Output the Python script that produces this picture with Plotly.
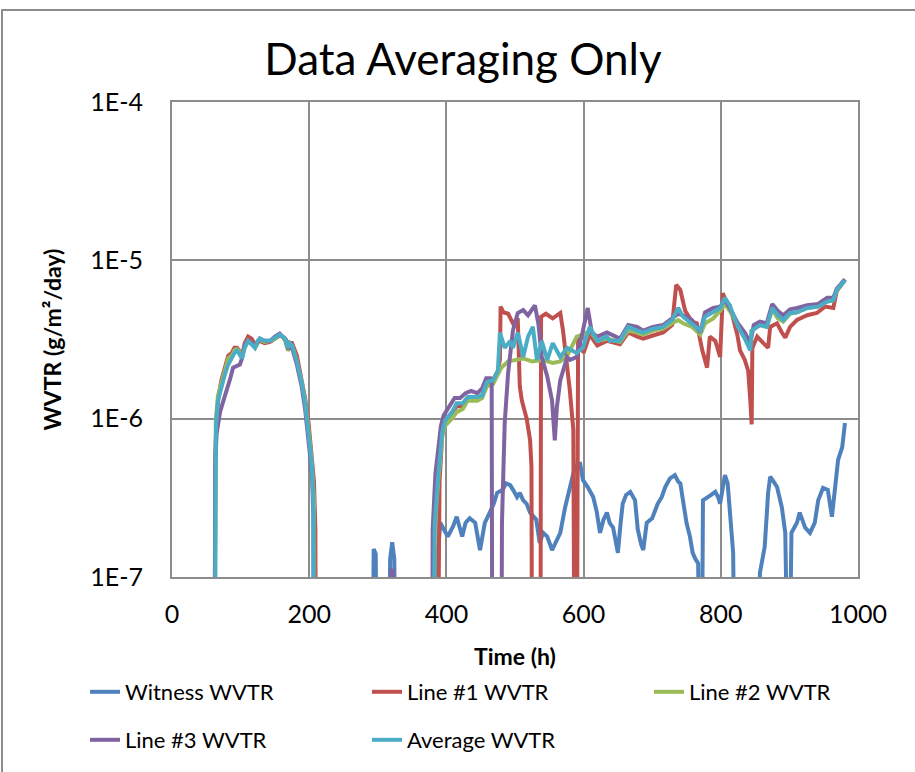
import plotly.graph_objects as go

# ---------------- data (time h, WVTR g/m2/day) ----------------
# values of 1e-8 are below the axis floor (drawn as drops to the bottom)
witness = [(288,1e-8),(292,1e-8),(294,1.5e-7),(297,1.4e-7),(299,1e-8),
    (315,1e-8),(318,1.3e-7),(321,1.66e-7),(324,1.3e-7),(327,1e-8),
    (385,1e-8),(388,1.5e-7),(391,2.2e-7),(396,2.0e-7),(402,1.8e-7),(410,2.1e-7),(415,2.4e-7),(423,1.8e-7),
    (428,2.2e-7),(434,2.35e-7),(442,2.2e-7),(449,1.48e-7),(456,2.2e-7),(464,2.6e-7),(469,2.9e-7),(474,3.4e-7),
    (482,3.55e-7),(487,3.9e-7),(493,3.8e-7),(498,3.5e-7),(503,3.2e-7),(507,3.4e-7),(512,3.05e-7),(517,2.9e-7),
    (522,2.55e-7),(531,2.3e-7),(536,1.64e-7),(541,1.9e-7),(547,1.8e-7),(554,1.48e-7),(560,1.7e-7),(566,1.9e-7),
    (573,2.75e-7),(579,3.6e-7),(585,4.5e-7),(591,5.2e-7),(595,5.2e-7),(599,4.1e-7),(606,3.7e-7),(614,3.2e-7),
    (619,2.6e-7),(624,1.9e-7),(629,2.3e-7),(634,2.55e-7),(638,2.2e-7),(643,2.05e-7),(650,1.42e-7),(654,2.2e-7),
    (657,2.9e-7),(662,3.3e-7),(668,3.45e-7),(675,3.05e-7),(679,2.0e-7),(684,1.6e-7),(687,1.48e-7),(692,2.2e-7),
    (700,2.35e-7),(708,2.9e-7),(714,3.2e-7),(719,3.7e-7),(726,4.2e-7),(733,4.4e-7),(738,4.0e-7),(741,3.9e-7),
    (745,2.9e-7),(750,2.2e-7),(755,1.8e-7),(759,1.42e-7),(763,1.3e-7),(767,1.22e-7),(770,1e-8),(772,1e-8),
    (774,3.05e-7),(780,3.2e-7),(786,3.3e-7),(792,3.45e-7),(796,3.2e-7),(799,2.9e-7),(802,3.6e-7),(806,4.4e-7),
    (810,3.9e-7),(814,2.4e-7),(818,1.42e-7),(821,1e-8),(853,1e-8),(857,1.06e-7),(864,1.55e-7),(869,3.4e-7),
    (872,4.3e-7),(877,4.0e-7),(882,3.7e-7),(889,2.75e-7),(894,1.9e-7),(899,1e-8),(903,1.9e-7),(911,2.2e-7),
    (915,2.55e-7),(923,2.05e-7),(930,1.9e-7),(937,2.2e-7),(942,3.05e-7),(949,3.65e-7),(956,3.55e-7),(962,2.4e-7),
    (966,3.7e-7),(971,5.5e-7),(977,6.6e-7),(981,9.4e-7)]

line1 = [(62,1e-8),(63,6e-7),(65,1.0e-6),(68,1.4e-6),(72,1.75e-6),(77,2.1e-6),(82,2.5e-6),(87,2.6e-6),
    (91,2.8e-6),(95,2.8e-6),(99,2.65e-6),(103,2.6e-6),(106,3.0e-6),(111,3.3e-6),(116,3.2e-6),(121,2.95e-6),
    (128,3.1e-6),(135,3.0e-6),(143,3.05e-6),(150,3.2e-6),(157,3.35e-6),(161,3.3e-6),(165,3.2e-6),(169,3.0e-6),
    (175,3.0e-6),(182,2.5e-6),(189,1.8e-6),(194,1.35e-6),(199,9.5e-7),(203,6.5e-7),(207,4.0e-7),(209,2e-7),
    (210,1e-8),(387,1e-8),(390,4e-7),(394,8e-7),(398,9.5e-7),(408,1.08e-6),(415,1.2e-6),(424,1.2e-6),
    (431,1.35e-6),(445,1.35e-6),(452,1.4e-6),(459,1.65e-6),(468,1.75e-6),(475,2.0e-6),(478,2.35e-6),(479,5.1e-6),
    (483,4.7e-6),(490,4.6e-6),(497,4.0e-6),(504,4.3e-6),(507,1.6e-6),(510,1.3e-6),(517,1.0e-6),(522,7.3e-7),
    (524,5e-7),(525,1e-8),(537,1e-8),(538,4.4e-6),(545,4.6e-6),(555,4.3e-6),(566,4.65e-6),(570,3.6e-6),
    (575,2.45e-6),(580,1.5e-6),(585,8.5e-7),(587,1e-8),(590,1e-8),(592,3.3e-6),(600,2.6e-6),(609,3.4e-6),
    (620,2.9e-6),(634,3.1e-6),(653,2.95e-6),(665,3.5e-6),(678,3.3e-6),(687,3.2e-6),(701,3.35e-6),(716,3.5e-6),
    (729,3.9e-6),(735,7.0e-6),(741,6.5e-6),(748,4.8e-6),(758,4.1e-6),(765,4.0e-6),(773,2.7e-6),(780,2.1e-6),
    (784,3.3e-6),(792,3.1e-6),(799,2.45e-6),(803,6.2e-6),(808,5.4e-6),(813,5.2e-6),(824,3.4e-6),(828,2.7e-6),
    (835,2.35e-6),(840,2.0e-6),(843,1.3e-6),(845,9.2e-7),(846,2.8e-6),(853,3.3e-6),(862,3.0e-6),(869,2.8e-6),
    (872,3.8e-6),(882,4.0e-6),(889,3.5e-6),(894,3.25e-6),(901,3.8e-6),(911,4.2e-6),(926,4.5e-6),(940,4.65e-6),
    (952,5.1e-6),(964,5.0e-6),(969,6.4e-6),(981,7.5e-6)]

line2 = [(62,1e-8),(63,6e-7),(64,1.0e-6),(67,1.4e-6),(72,1.7e-6),(77,2.0e-6),(82,2.4e-6),(87,2.5e-6),
    (91,2.7e-6),(95,2.75e-6),(99,2.6e-6),(102,2.5e-6),(106,2.9e-6),(111,3.1e-6),(116,3.0e-6),(121,2.8e-6),
    (128,3.15e-6),(135,3.05e-6),(143,3.1e-6),(150,3.2e-6),(157,3.4e-6),(161,3.3e-6),(165,3.1e-6),(169,2.7e-6),
    (175,2.9e-6),(182,2.3e-6),(189,1.7e-6),(194,1.3e-6),(199,8.5e-7),(204,5.2e-7),(207,3e-7),(208,1e-8),
    (381,1e-8),(383,2e-7),(388,4e-7),(394,7.8e-7),(398,9.0e-7),(408,1.0e-6),(415,1.1e-6),(424,1.15e-6),
    (431,1.3e-6),(445,1.3e-6),(452,1.35e-6),(459,1.6e-6),(468,1.65e-6),(475,1.9e-6),(480,2.1e-6),(490,2.3e-6),
    (500,2.35e-6),(512,2.4e-6),(525,2.3e-6),(540,2.35e-6),(555,2.25e-6),(566,2.3e-6),(576,2.5e-6),(590,3.3e-6),
    (600,3.4e-6),(609,3.6e-6),(620,3.1e-6),(634,3.2e-6),(653,3.05e-6),(665,3.6e-6),(678,3.5e-6),(687,3.4e-6),
    (701,3.6e-6),(716,3.7e-6),(729,4.0e-6),(738,4.2e-6),(745,4.0e-6),(758,3.8e-6),(770,3.4e-6),(777,4.0e-6),
    (789,4.3e-6),(799,4.8e-6),(806,5.3e-6),(813,4.8e-6),(825,3.9e-6),(835,3.3e-6),(843,2.9e-6),(845,3.6e-6),
    (857,3.9e-6),(867,3.8e-6),(875,4.9e-6),(883,4.3e-6),(891,4.1e-6),(901,4.6e-6),(911,4.7e-6),(926,5.0e-6),
    (942,5.1e-6),(955,5.5e-6),(964,5.6e-6),(969,6.5e-6),(981,7.6e-6)]

line3 = [(62,1e-8),(63,5e-7),(65,8e-7),(70,1.1e-6),(75,1.3e-6),(80,1.5e-6),(85,1.8e-6),(89,2.1e-6),
    (94,2.15e-6),(99,2.2e-6),(102,2.4e-6),(106,2.9e-6),(111,3.1e-6),(116,3.0e-6),(121,2.85e-6),(128,3.2e-6),
    (135,3.1e-6),(143,3.1e-6),(150,3.3e-6),(157,3.45e-6),(161,3.3e-6),(165,3.2e-6),(169,2.8e-6),(175,2.8e-6),
    (182,2.2e-6),(189,1.6e-6),(194,1.15e-6),(199,7.5e-7),(204,4.5e-7),(206,2.5e-7),(207,1e-8),
    (318,1e-8),(320,1.1e-7),(322,1.1e-7),(324,1e-8),
    (379,1e-8),(380,2e-7),(384,4.5e-7),(388,6.5e-7),(392,9e-7),(396,1.05e-6),(404,1.2e-6),(412,1.35e-6),
    (420,1.35e-6),(428,1.45e-6),(436,1.5e-6),(445,1.45e-6),(452,1.55e-6),(458,1.8e-6),(464,1.8e-6),(466,1.7e-6),
    (467,1e-8),(480,1e-8),(481,2.2e-7),(485,9.4e-7),(490,1.95e-6),(497,3.6e-6),(504,4.65e-6),(512,4.85e-6),
    (519,4.5e-6),(529,5.2e-6),(534,4.0e-6),(539,2.45e-6),(547,1.85e-6),(554,1.3e-6),(558,7.3e-7),(561,1.18e-6),
    (566,1.75e-6),(576,2.45e-6),(580,2.35e-6),(590,2.45e-6),(599,3.6e-6),(606,5.0e-6),(612,3.5e-6),(620,3.3e-6),
    (634,3.5e-6),(653,3.2e-6),(665,3.9e-6),(678,3.8e-6),(687,3.6e-6),(701,3.8e-6),(716,3.9e-6),(729,4.3e-6),
    (738,4.6e-6),(745,4.5e-6),(758,4.2e-6),(770,3.5e-6),(777,4.7e-6),(789,5.0e-6),(799,5.1e-6),(806,5.6e-6),
    (813,5.0e-6),(825,4.0e-6),(835,3.5e-6),(843,3.0e-6),(848,3.9e-6),(857,4.1e-6),(867,4.0e-6),(875,5.3e-6),
    (883,4.8e-6),(891,4.5e-6),(901,4.9e-6),(911,5.0e-6),(926,5.2e-6),(942,5.3e-6),(955,5.8e-6),(964,5.8e-6),
    (969,6.6e-6),(981,7.6e-6)]

average = [(62,1e-8),(63,5e-7),(64,9e-7),(67,1.3e-6),(72,1.6e-6),(77,1.9e-6),(82,2.2e-6),(87,2.4e-6),
    (91,2.6e-6),(95,2.7e-6),(99,2.55e-6),(102,2.4e-6),(106,2.8e-6),(111,3.1e-6),(116,2.95e-6),(121,2.8e-6),
    (125,3.1e-6),(128,3.2e-6),(135,3.1e-6),(143,3.1e-6),(150,3.25e-6),(157,3.4e-6),(161,3.3e-6),(165,3.2e-6),
    (169,2.8e-6),(172,3.0e-6),(175,2.9e-6),(182,2.3e-6),(189,1.7e-6),(194,1.25e-6),(199,8e-7),(204,5e-7),
    (206,3e-7),(207,1e-8),
    (380,1e-8),(383,2.2e-7),(388,4.3e-7),(394,8.2e-7),(398,9.7e-7),(408,1.1e-6),(415,1.25e-6),(424,1.25e-6),
    (431,1.37e-6),(445,1.37e-6),(452,1.4e-6),(459,1.7e-6),(468,1.75e-6),(475,2.0e-6),(478,3.5e-6),(485,2.8e-6),
    (493,3.1e-6),(497,2.8e-6),(504,3.5e-6),(512,2.45e-6),(519,3.3e-6),(526,3.8e-6),(532,2.35e-6),(539,3.1e-6),
    (547,2.35e-6),(555,3.0e-6),(566,2.45e-6),(576,2.8e-6),(590,2.6e-6),(599,2.8e-6),(609,3.8e-6),(620,3.1e-6),
    (634,3.3e-6),(638,3.1e-6),(653,3.1e-6),(665,3.8e-6),(678,3.6e-6),(687,3.5e-6),(701,3.7e-6),(716,3.8e-6),
    (729,4.2e-6),(738,5.0e-6),(745,4.4e-6),(758,4.0e-6),(770,3.6e-6),(777,4.4e-6),(789,4.7e-6),(799,5.0e-6),
    (806,5.8e-6),(813,5.2e-6),(825,3.8e-6),(835,3.2e-6),(843,2.7e-6),(845,3.6e-6),(857,3.9e-6),(867,3.8e-6),
    (875,5.0e-6),(883,4.5e-6),(891,4.2e-6),(901,4.65e-6),(911,4.7e-6),(926,5.0e-6),(942,5.1e-6),(955,5.5e-6),
    (964,5.6e-6),(969,6.5e-6),(981,7.5e-6)]

series_names = ["Witness WVTR", "Line #1 WVTR", "Line #2 WVTR", "Line #3 WVTR", "Average WVTR"]
series_data = [witness, line1, line2, line3, average]
series_colors = ["#4F81BD", "#C0504D", "#9BBB59", "#8064A2", "#4BACC6"]
series_legend = ["legend", "legend", "legend", "legend2", "legend2"]

y_tickvals = [1e-7, 1e-6, 1e-5, 1e-4]
y_ticktext = ["1E-7", "1E-6", "1E-5", "1E-4"]
x_tickvals = [0, 200, 400, 600, 800, 1000]

FONT = "Lato, 'Open Sans', sans-serif"
GRID = "#8c8c8c"

fig = go.Figure()
for name, data, color, lg in zip(series_names, series_data, series_colors, series_legend):
    fig.add_trace(go.Scatter(
        x=[p[0] for p in data], y=[p[1] for p in data], mode="lines", name=name,
        line=dict(color=color, width=4), legend=lg))

W, H = 915, 772
# plot area in window px: left 172, right 858, top 102, bottom 577
L, T = 172, 102
R = W - 858
B = H - 577
pw, ph = W - L - R, H - T - B

def px_x(px):
    return (px - L) / pw

def px_y(py):
    return (H - B - py) / ph

fig.update_layout(
    width=W, height=H,
    margin=dict(l=L, r=R, t=T, b=B, autoexpand=False),
    paper_bgcolor="white", plot_bgcolor="white",
    font=dict(family=FONT, color="black", size=22),
    title=dict(text="Data Averaging Only", font=dict(size=44, family=FONT, color="black"),
               x=px_x(463), xref="paper", xanchor="center",
               y=1 - 60 / H, yref="container", yanchor="middle"),
    xaxis=dict(range=[0, 1000], tickvals=x_tickvals, showgrid=True, gridcolor=GRID, gridwidth=2,
               showline=True, linecolor=GRID, linewidth=2, mirror=True, zeroline=False,
               ticks="", ticklabelstandoff=14, tickfont=dict(size=25, family=FONT),
               title=dict(text="<b>Time (h)</b>", font=dict(size=23, family=FONT), standoff=22)),
    yaxis=dict(type="log", range=[-7, -4], tickvals=y_tickvals, ticktext=y_ticktext,
               showgrid=True, gridcolor=GRID, gridwidth=2,
               showline=True, linecolor=GRID, linewidth=2, mirror=True, zeroline=False,
               ticks="", ticklabelstandoff=22, tickfont=dict(size=25, family=FONT),
               title=dict(text="<b>WVTR (g/m²/day)</b>", font=dict(size=23, family=FONT), standoff=22)),
    legend=dict(orientation="h", x=px_x(85), xanchor="left", y=px_y(671), yanchor="top",
                entrywidth=237, entrywidthmode="pixels", font=dict(size=22, family=FONT),
                bgcolor="rgba(0,0,0,0)", traceorder="normal"),
    legend2=dict(orientation="h", x=px_x(85), xanchor="left", y=px_y(719), yanchor="top",
                 entrywidth=237, entrywidthmode="pixels", font=dict(size=22, family=FONT),
                 bgcolor="rgba(0,0,0,0)", traceorder="normal"),
    showlegend=True,
)

# outer chart border
fig.add_shape(type="rect", xref="paper", yref="paper",
              x0=px_x(2), x1=px_x(935), y0=px_y(800), y1=px_y(10),
              line=dict(color="#8c8c8c", width=2), fillcolor="rgba(0,0,0,0)", layer="above")

# remove the browser's default 8px body margin so the figure sits at the window origin
fig.write_html("out.html", config={"displayModeBar": False},
               post_script="document.body.style.margin='0';")
